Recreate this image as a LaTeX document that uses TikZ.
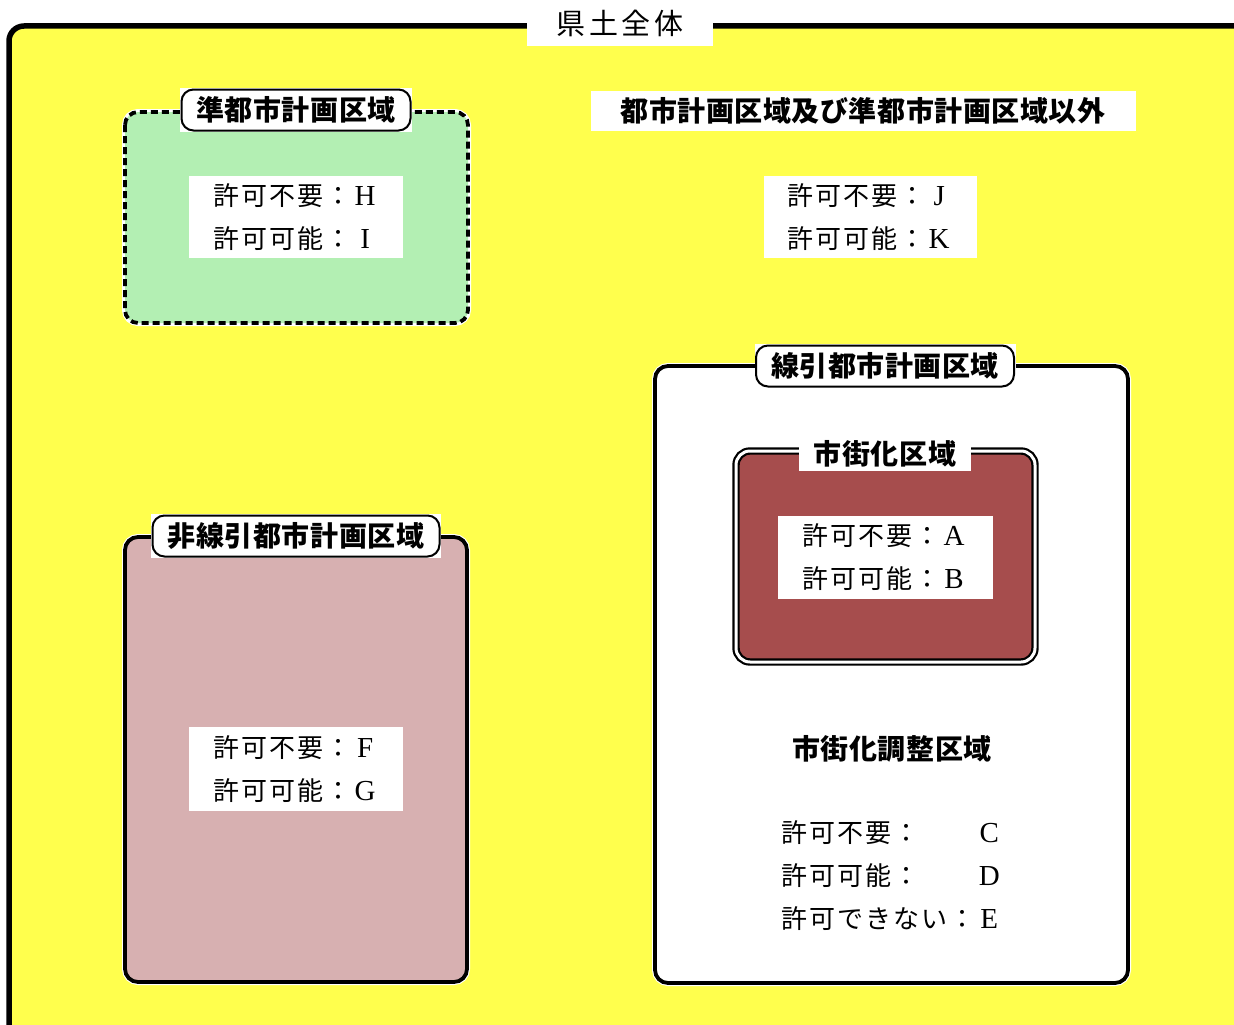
\documentclass[tikz,border=0pt]{standalone}
\usepackage{fontspec}
\newfontfamily\jb{Noto Sans CJK JP}[LetterSpace=2]
\newfontfamily\jt{Noto Sans CJK JP}[LetterSpace=12]
\newfontfamily\jm{Noto Sans CJK JP}[LetterSpace=8]
\newfontfamily\lat{Liberation Serif}
\definecolor{yel}{RGB}{255,255,77}
\definecolor{grn}{RGB}{179,239,179}
\definecolor{pnk}{RGB}{215,176,177}
\definecolor{dred}{RGB}{166,77,77}
\newcommand{\Lt}[1]{{\lat\fontsize{29pt}{43pt}\selectfont\makebox[27pt]{#1}}}
\tikzset{
  region/.style={line width=3.8pt, rounded corners=13pt},
  lbl/.style={draw=black, fill=white, line width=2pt, rounded corners=12pt, inner sep=0pt,
    font=\jb\bfseries\fontsize{28pt}{30pt}\selectfont},
  lblbg/.style={fill=white, inner sep=0pt},
  txt/.style={fill=white, inner sep=0pt, align=left, font=\jm\fontsize{26pt}{43pt}\selectfont},
  head/.style={inner sep=0pt, font=\jb\bfseries\fontsize{28pt}{30pt}\selectfont},
}
\begin{document}
\begin{tikzpicture}[x=1pt,y=-1pt]
\useasboundingbox (0,0) rectangle (1234,1025);
\fill[white] (0,0) rectangle (1234,1025);
% whole prefecture
\begin{scope}
\clip (0,0) rectangle (1234,1025);
\draw[fill=yel, draw=black, line width=5.5pt, rounded corners=15pt] (9,26) rectangle (1260,1060);
\end{scope}
\node[fill=white, minimum width=186pt, minimum height=46pt, inner sep=0pt,
  font=\jt\fontsize{29pt}{32pt}\selectfont] (title) at (620,23) {県土全体};

% quasi city planning area (green, dashed)
\draw[white, line width=6pt, rounded corners=13pt] (125,112) rectangle (468,323);
\draw[region, fill=grn, dash pattern=on 7pt off 4pt] (125,112) rectangle (468,323);
\node[lblbg, minimum width=232pt, minimum height=44pt] (qbg) at (296,110) {};
\node[lbl, minimum width=229pt, minimum height=41pt] (q) at (296,110) {準都市計画区域};
\node[txt, minimum width=214pt, minimum height=82pt] (qt) at (296,217)
  {許可不要：\Lt{H}\\許可可能：\Lt{I}};

% outside
\node[lblbg, minimum width=545pt, minimum height=40pt] (out) at (863,111)
  {\jb\bfseries\fontsize{28pt}{30pt}\selectfont 都市計画区域及び準都市計画区域以外};
\node[txt, minimum width=213pt, minimum height=82pt] (ot) at (870,217)
  {許可不要：\Lt{J}\\許可可能：\Lt{K}};

% non-delineated (pink)
\draw[white, line width=6pt, rounded corners=13pt] (125,537) rectangle (467,982);
\draw[region, fill=pnk] (125,537) rectangle (467,982);
\node[lblbg, minimum width=290pt, minimum height=44pt] (nbg) at (296,536) {};
\node[lbl, minimum width=287pt, minimum height=41pt] (n) at (296,536) {非線引都市計画区域};
\node[txt, minimum width=214pt, minimum height=84pt] (nt) at (296,769)
  {許可不要：\Lt{F}\\許可可能：\Lt{G}};

% delineated (white)
\draw[white, line width=6pt, rounded corners=13pt] (655,366) rectangle (1128,983);
\draw[region, fill=white] (655,366) rectangle (1128,983);
\node[lblbg, minimum width=261pt, minimum height=44pt] (dbg) at (885,366) {};
\node[lbl, minimum width=258pt, minimum height=41pt] (d) at (885,366) {線引都市計画区域};

% urbanization promotion area
\draw[fill=dred, draw=black, line width=2.2pt, double=white, double distance=3pt, rounded corners=14pt]
  (736,451) rectangle (1035,662);
\node[lblbg, minimum width=172pt, minimum height=32pt] (u) at (885,455)
  {\raisebox{5pt}{\jb\bfseries\fontsize{28pt}{30pt}\selectfont 市街化区域}};
\node[txt, minimum width=215pt, minimum height=83pt] (ut) at (885,557)
  {許可不要：\Lt{A}\\許可可能：\Lt{B}};

% urbanization control area
\node[head] (c) at (892,749) {市街化調整区域};
\node[txt, fill=none] (ct) at (892,876)
  {\rlap{許可不要：}\hphantom{許可できない：}\Lt{C}\\
   \rlap{許可可能：}\hphantom{許可できない：}\Lt{D}\\
   許可できない：\Lt{E}};
\end{tikzpicture}
\end{document}
